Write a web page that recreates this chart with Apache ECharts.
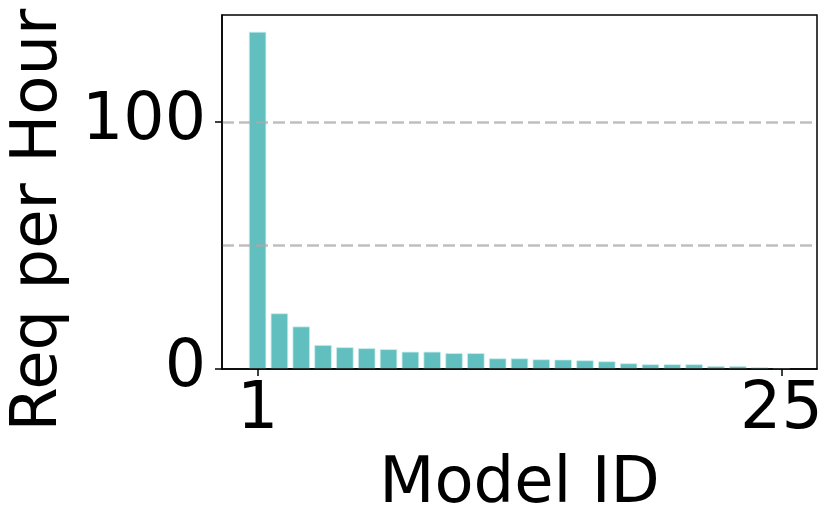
<!DOCTYPE html>
<html><head><meta charset="utf-8">
<script src="https://cdn.jsdelivr.net/npm/echarts@6/dist/echarts.min.js"></script>
<style>html,body{margin:0;padding:0;background:#fff}#c{width:837px;height:532px}</style>
</head><body><div id="c"></div>
<script>
const modelIds = [1,2,3,4,5,6,7,8,9,10,11,12,13,14,15,16,17,18,19,20,21,22,23,24,25];
const reqPerHour = [136.4,22.5,17.2,9.7,8.8,8.4,8.0,7.0,7.0,6.4,6.4,4.3,4.3,3.9,3.8,3.5,3.1,2.3,1.9,1.9,1.9,1.2,1.2,0.7,0.3];
const xTickValues = [1,25];
const yTickValues = [0,100];
const xName = "Model ID";
const yName = "Req per Hour";

const chart = echarts.init(document.getElementById('c'), null, {renderer:'canvas'});
const font = "DejaVu Sans";
const yMin = 0, yMax = 143.2;
chart.setOption({
  animation:false,
  backgroundColor:'#fff',
  grid:{left:222, top:15, right:20, bottom:163, show:true, borderColor:'#000', borderWidth:1.5, containLabel:false, outerBoundsMode:'none'},
  xAxis:{
    type:'value', min:-0.63, max:26.63,
    name:xName, nameLocation:'middle', nameGap:84,
    nameTextStyle:{fontFamily:font, fontSize:64, color:'#000'},
    axisLine:{show:true, onZero:false, lineStyle:{color:'#000', width:1.5}},
    axisTick:{show:true, customValues:xTickValues, length:7, lineStyle:{color:'#000', width:1.5}},
    axisLabel:{show:true, customValues:xTickValues, margin:10, fontFamily:font, fontSize:65, color:'#000'},
    splitLine:{show:false},
    z:6
  },
  yAxis:[{
    type:'value', min:yMin, max:yMax, interval:50,
    name:yName, nameLocation:'middle', nameGap:144,
    nameTextStyle:{fontFamily:font, fontSize:64, color:'#000', padding:[0,56,0,0]},
    axisLine:{show:true, onZero:false, lineStyle:{color:'#000', width:1.5}},
    axisTick:{show:true, customValues:yTickValues, length:7, lineStyle:{color:'#000', width:1.5}},
    axisLabel:{show:true, customValues:yTickValues, margin:16, fontFamily:font, fontSize:65, color:'#000'},
    splitLine:{show:false},
    z:6
  },{
    type:'value', min:yMin, max:yMax, interval:50, position:'left',
    axisLine:{show:false}, axisTick:{show:false}, axisLabel:{show:false},
    splitLine:{show:true, showMinLine:false, showMaxLine:false, lineStyle:{color:'rgba(170,170,170,0.75)', width:2.5, type:[12,5]}},
    z:5
  }],
  series:[{
    type:'bar',
    yAxisIndex:0,
    data:modelIds.map((id,i)=>[id, reqPerHour[i]]),
    barWidth:17.4,
    itemStyle:{color:'#62bfbf', borderColor:'rgba(200,235,235,0.9)', borderWidth:0.8},
    z:2
  }]
});
</script></body></html>
